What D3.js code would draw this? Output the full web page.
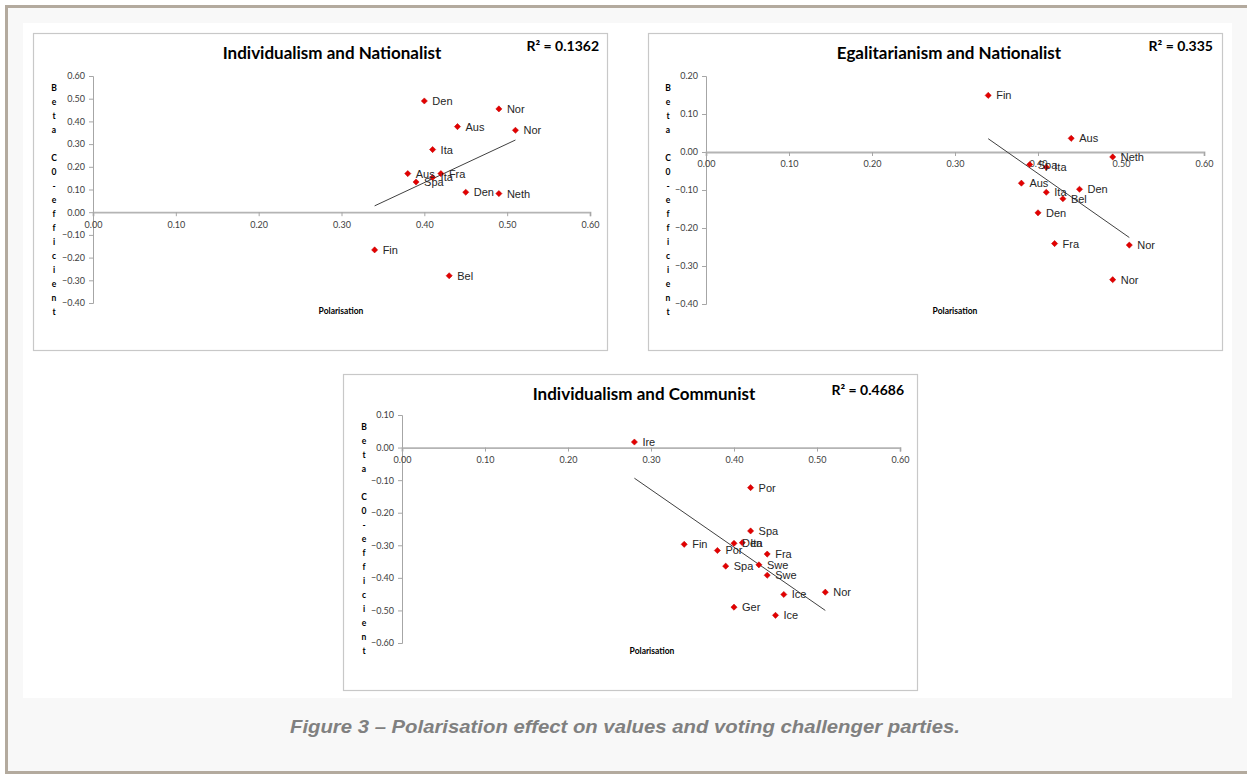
<!DOCTYPE html>
<html>
<head>
<meta charset="utf-8">
<script src="https://cdn.jsdelivr.net/npm/d3@7"></script>
<style>
  html, body { margin: 0; padding: 0; background: #ffffff; }
  svg { display: block; }
</style>
</head>
<body>
<svg id="fig" width="1247" height="774"></svg>
<script>
// ---------------- DATA ----------------
const xTickValues = [0, 0.1, 0.2, 0.3, 0.4, 0.5, 0.6];

// Chart 1: Individualism and Nationalist
const ch1Title = "Individualism and Nationalist";
const ch1R2 = "R² = 0.1362";
const ch1Countries = ["Den", "Nor", "Aus", "Nor", "Ita", "Aus", "Fra", "Ita", "Spa", "Den", "Neth", "Fin", "Bel"];
const ch1Polarisation = [0.40, 0.49, 0.44, 0.51, 0.41, 0.38, 0.42, 0.41, 0.39, 0.45, 0.49, 0.34, 0.43];
const ch1Beta = [0.49, 0.455, 0.377, 0.361, 0.276, 0.170, 0.170, 0.153, 0.133, 0.088, 0.082, -0.166, -0.280];
const ch1YTicks = [0.6, 0.5, 0.4, 0.3, 0.2, 0.1, 0, -0.1, -0.2, -0.3, -0.4];
const ch1TrendX = [0.34, 0.51];
const ch1TrendY = [0.028, 0.318];

// Chart 2: Egalitarianism and Nationalist
const ch2Title = "Egalitarianism and Nationalist";
const ch2R2 = "R² = 0.335";
const ch2Countries = ["Fin", "Aus", "Neth", "Spa", "Ita", "Aus", "Den", "Ita", "Bel", "Den", "Fra", "Nor", "Nor"];
const ch2Polarisation = [0.34, 0.44, 0.49, 0.39, 0.41, 0.38, 0.45, 0.41, 0.43, 0.40, 0.42, 0.51, 0.49];
const ch2Beta = [0.149, 0.036, -0.013, -0.033, -0.040, -0.082, -0.098, -0.106, -0.123, -0.160, -0.241, -0.245, -0.336];
const ch2YTicks = [0.2, 0.1, 0, -0.1, -0.2, -0.3, -0.4];
const ch2TrendX = [0.34, 0.51];
const ch2TrendY = [0.035, -0.225];

// Chart 3: Individualism and Communist
const ch3Title = "Individualism and Communist";
const ch3R2 = "R² = 0.4686";
const ch3Countries = ["Ire", "Por", "Spa", "Den", "Ita", "Fin", "Por", "Fra", "Swe", "Spa", "Swe", "Nor", "Ice", "Ger", "Ice"];
const ch3Polarisation = [0.28, 0.42, 0.42, 0.40, 0.41, 0.34, 0.38, 0.44, 0.43, 0.39, 0.44, 0.51, 0.46, 0.40, 0.45];
const ch3Beta = [0.017, -0.123, -0.256, -0.294, -0.292, -0.297, -0.316, -0.327, -0.360, -0.364, -0.392, -0.444, -0.451, -0.490, -0.515];
const ch3YTicks = [0.1, 0, -0.1, -0.2, -0.3, -0.4, -0.5, -0.6];
const ch3TrendX = [0.28, 0.51];
const ch3TrendY = [-0.094, -0.500];

const xAxisTitle = "Polarisation";
const yAxisTitle = "Beta C0-efficient";
const caption = "Figure 3 – Polarisation effect on values and voting challenger parties.";

// ---------------- DRAW ----------------
const svg = d3.select("#fig");

// page frame
svg.append("rect").attr("x", 6.5).attr("y", 6.5).attr("width", 1260).attr("height", 766)
  .attr("fill", "#f8f8f8").attr("stroke", "#b3aa9e").attr("stroke-width", 3);
svg.append("rect").attr("x", 23).attr("y", 23).attr("width", 1209).attr("height", 675)
  .attr("fill", "#ffffff");

svg.append("text").attr("x", 625).attr("y", 733)
  .attr("text-anchor", "middle")
  .attr("font-family", "'Liberation Sans', Arial, sans-serif")
  .attr("font-weight", "bold").attr("font-style", "italic")
  .attr("font-size", 18.5).attr("fill", "#808080")
  .attr("textLength", 670).attr("lengthAdjust", "spacingAndGlyphs")
  .text(caption);

const fmt = d3.format(".2f");
const tickFont = "Lato, 'Liberation Sans', sans-serif";

function drawChart(cfg) {
  const g = svg.append("g");
  const box = cfg.box;
  g.append("rect").attr("x", box.x + 0.5).attr("y", box.y + 0.5)
    .attr("width", box.w).attr("height", box.h)
    .attr("fill", "#ffffff").attr("stroke", "#c8c8c8").attr("stroke-width", 1.2);

  const x = d3.scaleLinear().domain([0, 0.6]).range([cfg.plot.x0, cfg.plot.x1]);
  const y = d3.scaleLinear().domain(cfg.yDomain).range([cfg.plot.y1, cfg.plot.y0]);

  // y axis
  const yAxis = d3.axisLeft(y).tickValues(cfg.yTicks).tickFormat(fmt).tickSizeOuter(0).tickSize(4).tickPadding(4);
  const ya = g.append("g").attr("transform", `translate(${x(0)},0)`).call(yAxis);
  ya.select(".domain").attr("stroke", "#a6a6a6");
  ya.selectAll(".tick line").attr("stroke", "#a6a6a6");
  ya.selectAll(".tick text").attr("font-family", tickFont).attr("font-size", 9).attr("fill", "#404040");

  // x axis at y = 0
  const xAxis = d3.axisBottom(x).tickValues(xTickValues).tickFormat(fmt).tickSizeOuter(0).tickSize(4).tickPadding(5);
  const xa = g.append("g").attr("transform", `translate(0,${y(0)})`).call(xAxis);
  xa.select(".domain").attr("stroke", "#b4b4b4").attr("stroke-width", 1.8);
  xa.selectAll(".tick line").attr("stroke", "#a6a6a6");
  xa.selectAll(".tick text").attr("font-family", tickFont).attr("font-size", 9).attr("fill", "#404040");

  // title
  g.append("text").attr("x", cfg.titleX).attr("y", box.y + 26)
    .attr("text-anchor", "middle").attr("font-family", "Lato, 'Liberation Sans', sans-serif")
    .attr("font-weight", "bold").attr("font-size", 17).attr("fill", "#000")
    .text(cfg.title);
  // R²
  g.append("text").attr("x", cfg.r2X).attr("y", cfg.r2Y)
    .attr("text-anchor", "end").attr("font-family", "Lato, 'Liberation Sans', sans-serif")
    .attr("font-weight", "bold").attr("font-size", 14).attr("fill", "#000")
    .text(cfg.r2);

  // axis titles
  g.append("text").attr("x", cfg.xTitleX).attr("y", cfg.xTitleY)
    .attr("text-anchor", "middle").attr("font-family", tickFont)
    .attr("font-weight", "bold").attr("font-size", 8.5).attr("fill", "#000")
    .text(xAxisTitle);
  const yt = g.append("text").attr("font-family", tickFont)
    .attr("font-weight", "bold").attr("font-size", 8.5).attr("fill", "#000")
    .attr("text-anchor", "middle");
  Array.from(yAxisTitle).forEach((ch, i) => {
    yt.append("tspan").attr("x", cfg.yTitleX).attr("y", cfg.yTitleY + i * 14).text(ch === " " ? "\u00a0" : ch);
  });

  // trend line
  const line = d3.line().x(d => x(d[0])).y(d => y(d[1]));
  g.append("path").datum(cfg.trendX.map((v, i) => [v, cfg.trendY[i]]))
    .attr("d", line).attr("fill", "none").attr("stroke", "#404040").attr("stroke-width", 1);

  const pts = cfg.countries.map((c, i) => ({ c, px: cfg.xs[i], py: cfg.ys[i] }));
  const sym = d3.symbol(d3.symbolSquare, 19);
  g.selectAll("path.pt").data(pts).enter().append("path").attr("class", "pt")
    .attr("d", sym)
    .attr("transform", d => `translate(${x(d.px)},${y(d.py)}) rotate(45)`)
    .attr("fill", "#e30000").attr("stroke", "#c00000").attr("stroke-width", 0.5);
  g.selectAll("text.lbl").data(pts).enter().append("text").attr("class", "lbl")
    .attr("x", d => x(d.px) + 8).attr("y", d => y(d.py))
    .attr("dy", "0.36em")
    .attr("font-family", "'Liberation Sans', Arial, sans-serif")
    .attr("font-size", 11).attr("fill", "#262626")
    .text(d => d.c);
}

drawChart({
  box: { x: 33, y: 33, w: 574, h: 317 },
  plot: { x0: 93, x1: 590, y0: 76, y1: 303 },
  yDomain: [-0.4, 0.6], yTicks: ch1YTicks,
  title: ch1Title, titleX: 332, r2: ch1R2, r2X: 599, r2Y: 51,
  xTitleX: 341, xTitleY: 314, yTitleX: 54, yTitleY: 91,
  countries: ch1Countries, xs: ch1Polarisation, ys: ch1Beta,
  trendX: ch1TrendX, trendY: ch1TrendY
});
drawChart({
  box: { x: 648, y: 33, w: 574, h: 317 },
  plot: { x0: 706, x1: 1204, y0: 76, y1: 304 },
  yDomain: [-0.4, 0.2], yTicks: ch2YTicks,
  title: ch2Title, titleX: 949, r2: ch2R2, r2X: 1213, r2Y: 51,
  xTitleX: 955, xTitleY: 314, yTitleX: 668, yTitleY: 91,
  countries: ch2Countries, xs: ch2Polarisation, ys: ch2Beta,
  trendX: ch2TrendX, trendY: ch2TrendY
});
drawChart({
  box: { x: 343, y: 374, w: 574, h: 316 },
  plot: { x0: 402, x1: 900, y0: 415, y1: 643 },
  yDomain: [-0.6, 0.1], yTicks: ch3YTicks,
  title: ch3Title, titleX: 644, r2: ch3R2, r2X: 904, r2Y: 395,
  xTitleX: 652, xTitleY: 654, yTitleX: 364, yTitleY: 430,
  countries: ch3Countries, xs: ch3Polarisation, ys: ch3Beta,
  trendX: ch3TrendX, trendY: ch3TrendY
});
</script>
</body>
</html>
